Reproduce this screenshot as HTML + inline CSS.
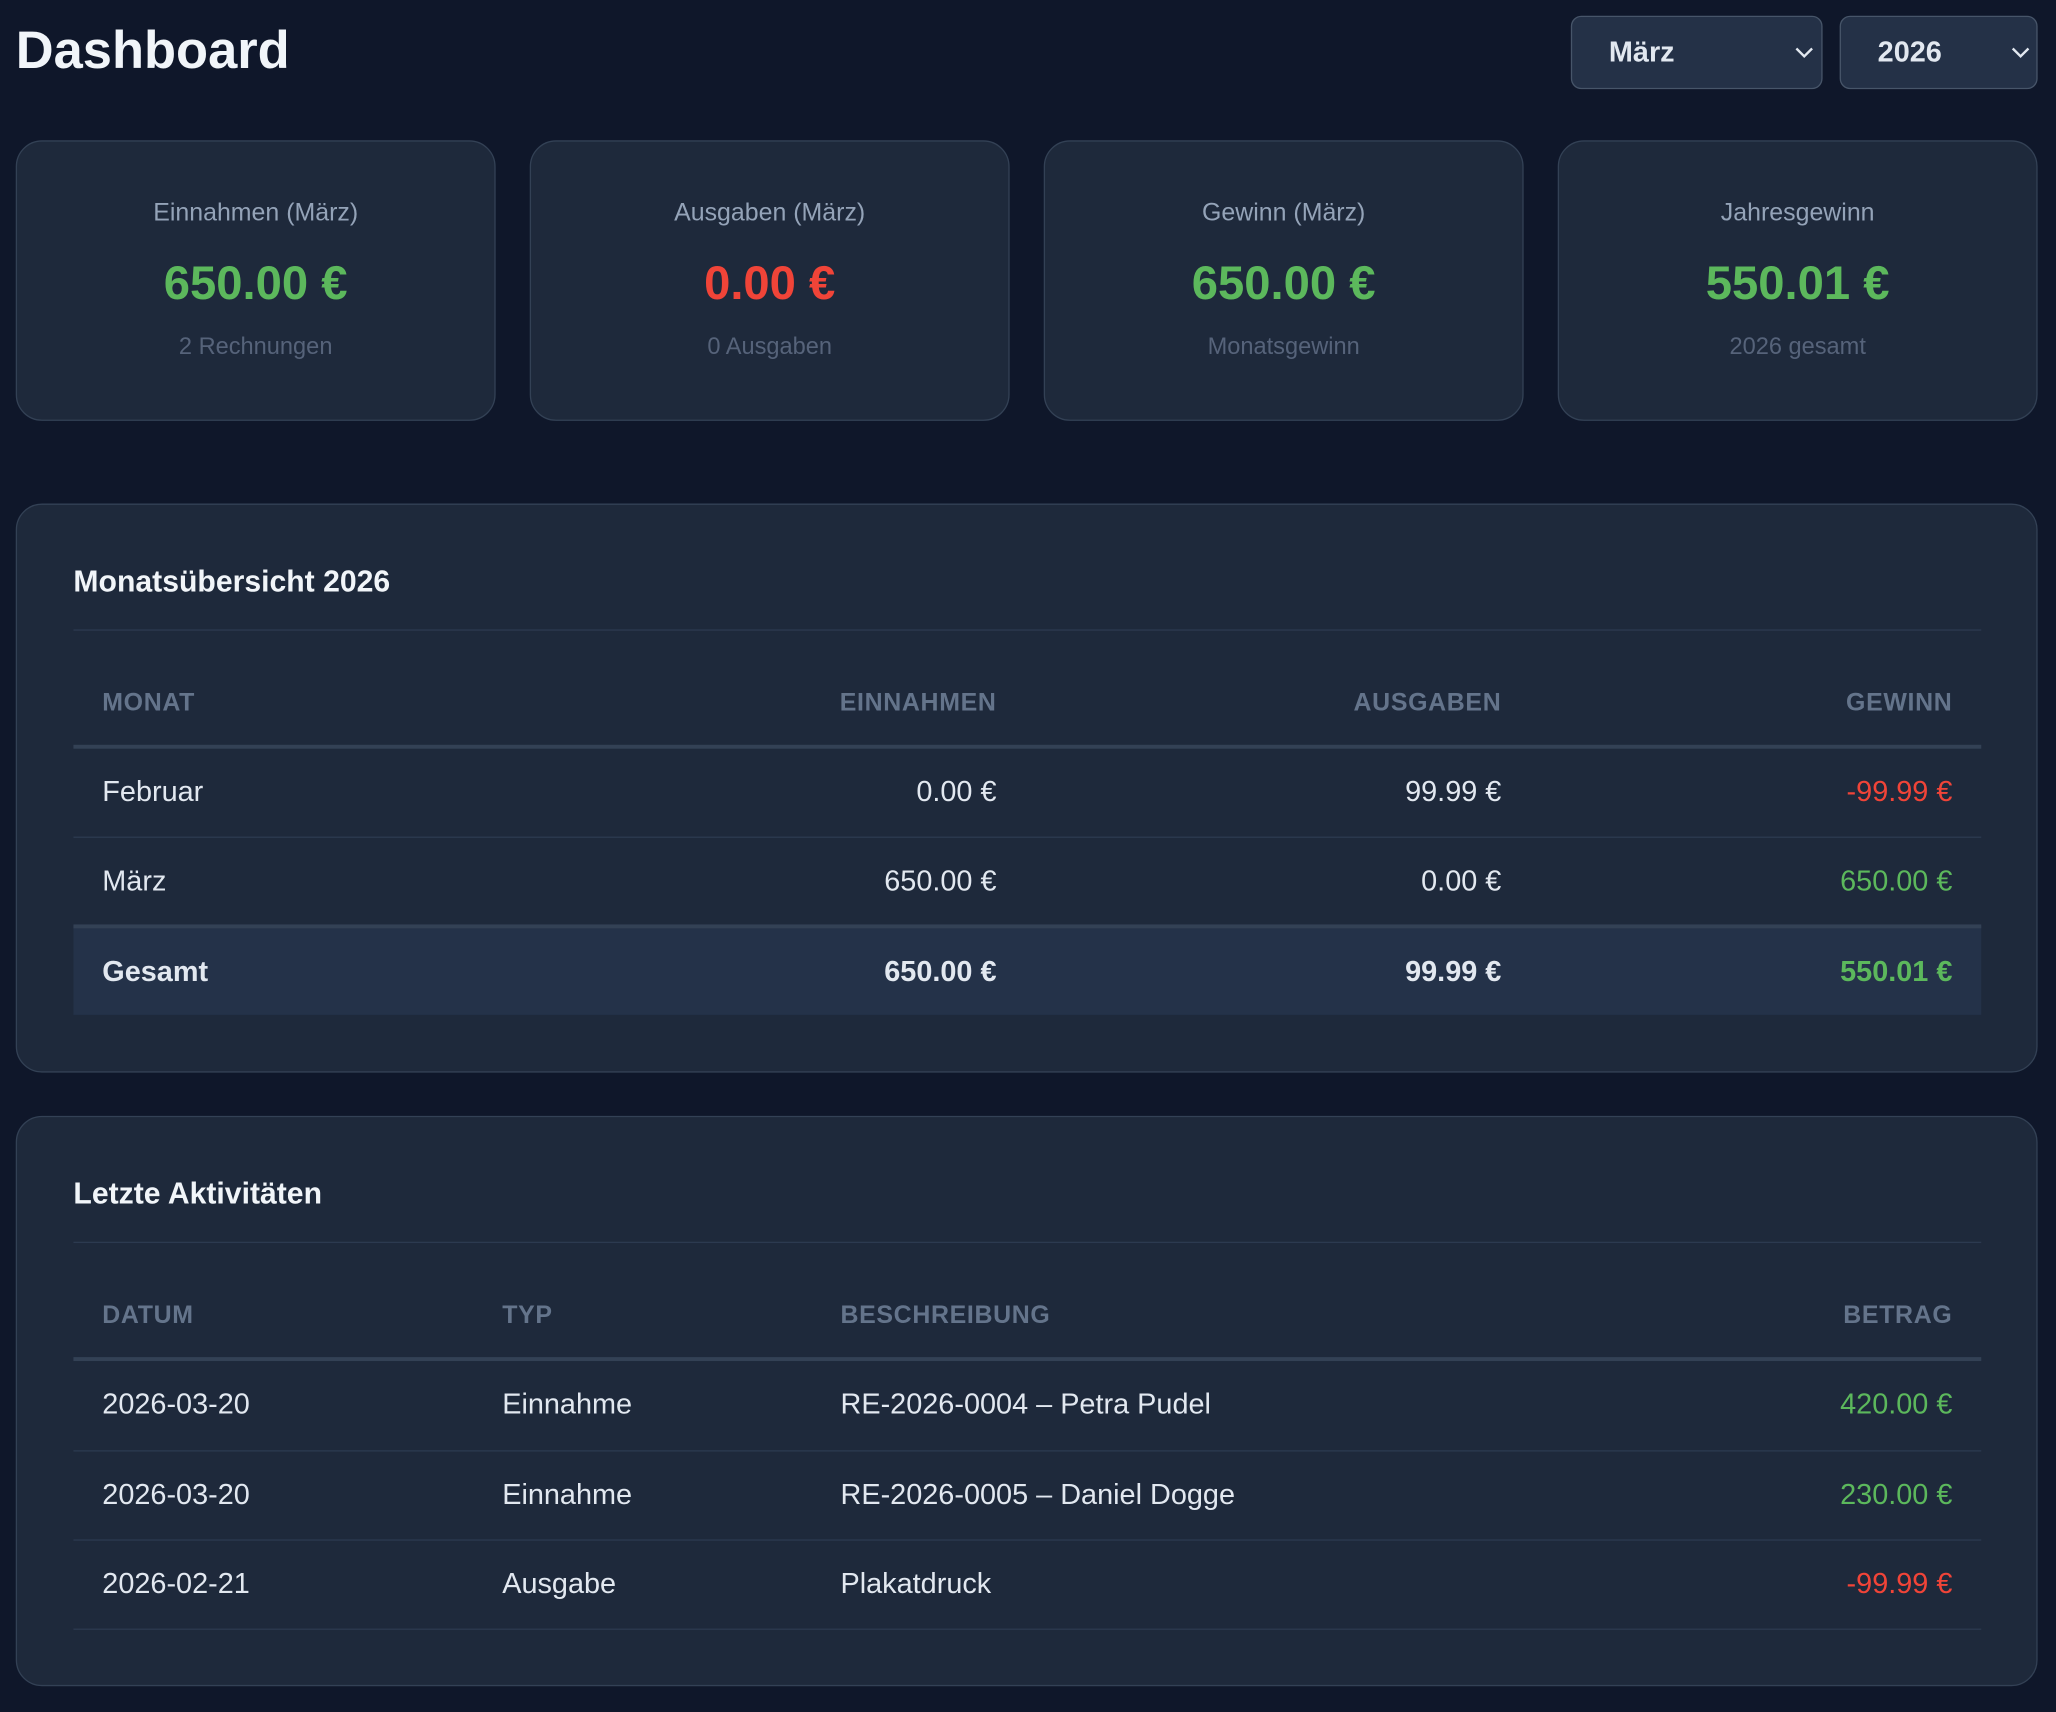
<!DOCTYPE html>
<html><head><meta charset="utf-8"><style>
html,body{margin:0;padding:0;background:#0f172a;width:2056px;height:1712px;overflow:hidden}
#w{position:absolute;left:0;top:0;width:1568px;height:1306px;transform:scale(1.31122);transform-origin:0 0;font-family:"Liberation Sans",sans-serif;color:#e2e8f0}
.a{position:absolute;white-space:nowrap}
.box{position:absolute;background:#1e293b;border:1px solid #334155;box-sizing:border-box}
.sel{background:#243147;border:1px solid #475569;border-radius:8px}
.card{border-radius:20px}
.lab{font-size:19px;color:#94a3b8;width:366px;text-align:center}
.val{font-size:36px;font-weight:bold;width:366px;text-align:center}
.sub{font-size:18px;color:#56637a;width:366px;text-align:center}
.ttl{font-size:23px;font-weight:bold;color:#f1f5f9}
.hd{font-size:19px;font-weight:bold;color:#64748b;letter-spacing:.5px}
.c{font-size:22px;color:#e2e8f0}
.b{font-weight:bold}
.g{color:#5cb85c}.r{color:#f04438}
.line{position:absolute;left:56px;width:1455px;background:#2c3a50}
.ra{text-align:right}
</style></head><body><div id="w">
<div class="a" style="left:12px;top:14px;font-size:40px;font-weight:bold;color:#f1f5f9;line-height:50px">Dashboard</div>
<div class="box sel" style="left:1198px;top:12px;width:192px;height:56px"></div>
<div class="a" style="left:1227px;top:26px;font-size:22px;font-weight:bold;line-height:28px;color:#e2e8f0">März</div>
<svg class="a" style="left:1369px;top:35px" width="14" height="10"><path d="M1 2 L7 8 L13 2" stroke="#e2e8f0" stroke-width="1.8" fill="none"/></svg>
<div class="box sel" style="left:1403px;top:12px;width:151px;height:56px"></div>
<div class="a" style="left:1432px;top:26px;font-size:22px;font-weight:bold;line-height:28px;color:#e2e8f0">2026</div>
<svg class="a" style="left:1534px;top:35px" width="14" height="10"><path d="M1 2 L7 8 L13 2" stroke="#e2e8f0" stroke-width="1.8" fill="none"/></svg>

<div class="box card" style="left:12px;top:107px;width:366px;height:214px"></div>
<div class="box card" style="left:404px;top:107px;width:366px;height:214px"></div>
<div class="box card" style="left:796px;top:107px;width:366px;height:214px"></div>
<div class="box card" style="left:1188px;top:107px;width:366px;height:214px"></div>

<div class="a lab" style="left:12px;top:151px;line-height:24px">Einnahmen (März)</div>
<div class="a val g" style="left:12px;top:194px;line-height:44px">650.00 €</div>
<div class="a sub" style="left:12px;top:252px;line-height:24px">2 Rechnungen</div>
<div class="a lab" style="left:404px;top:151px;line-height:24px">Ausgaben (März)</div>
<div class="a val r" style="left:404px;top:194px;line-height:44px">0.00 €</div>
<div class="a sub" style="left:404px;top:252px;line-height:24px">0 Ausgaben</div>
<div class="a lab" style="left:796px;top:151px;line-height:24px">Gewinn (März)</div>
<div class="a val g" style="left:796px;top:194px;line-height:44px">650.00 €</div>
<div class="a sub" style="left:796px;top:252px;line-height:24px">Monatsgewinn</div>
<div class="a lab" style="left:1188px;top:151px;line-height:24px">Jahresgewinn</div>
<div class="a val g" style="left:1188px;top:194px;line-height:44px">550.01 €</div>
<div class="a sub" style="left:1188px;top:252px;line-height:24px">2026 gesamt</div>

<div class="box card" style="left:12px;top:384px;width:1542px;height:434px;border-radius:20px"></div>
<div class="a ttl" style="left:56px;top:429px;line-height:28px">Monatsübersicht 2026</div>
<div class="line" style="top:480px;height:1px"></div>
<div class="a hd" style="left:78px;top:525px;line-height:24px">MONAT</div>
<div class="a hd ra" style="right:808px;top:525px;line-height:24px">EINNAHMEN</div>
<div class="a hd ra" style="right:423px;top:525px;line-height:24px">AUSGABEN</div>
<div class="a hd ra" style="right:79px;top:525px;line-height:24px">GEWINN</div>
<div class="line" style="top:568px;height:3px;background:#334155"></div>
<div class="a c" style="left:78px;top:590px;line-height:28px">Februar</div>
<div class="a c ra" style="right:808px;top:590px;line-height:28px">0.00 €</div>
<div class="a c ra" style="right:423px;top:590px;line-height:28px">99.99 €</div>
<div class="a c ra r" style="right:79px;top:590px;line-height:28px">-99.99 €</div>
<div class="line" style="top:638px;height:1px"></div>
<div class="a c" style="left:78px;top:658px;line-height:28px">März</div>
<div class="a c ra" style="right:808px;top:658px;line-height:28px">650.00 €</div>
<div class="a c ra" style="right:423px;top:658px;line-height:28px">0.00 €</div>
<div class="a c ra g" style="right:79px;top:658px;line-height:28px">650.00 €</div>
<div class="line" style="top:706px;height:68px;background:#243249"></div>
<div class="line" style="top:705px;height:3px;background:#334155"></div>
<div class="a c b" style="left:78px;top:727px;line-height:28px">Gesamt</div>
<div class="a c b ra" style="right:808px;top:727px;line-height:28px">650.00 €</div>
<div class="a c b ra" style="right:423px;top:727px;line-height:28px">99.99 €</div>
<div class="a c b ra g" style="right:79px;top:727px;line-height:28px">550.01 €</div>

<div class="box card" style="left:12px;top:851px;width:1542px;height:435px;border-radius:20px"></div>
<div class="a ttl" style="left:56px;top:896px;line-height:28px">Letzte Aktivitäten</div>
<div class="line" style="top:947px;height:1px"></div>
<div class="a hd" style="left:78px;top:992px;line-height:24px">DATUM</div>
<div class="a hd" style="left:383px;top:992px;line-height:24px">TYP</div>
<div class="a hd" style="left:641px;top:992px;line-height:24px">BESCHREIBUNG</div>
<div class="a hd ra" style="right:79px;top:992px;line-height:24px">BETRAG</div>
<div class="line" style="top:1035px;height:3px;background:#334155"></div>
<div class="a c" style="left:78px;top:1057px;line-height:28px">2026-03-20</div>
<div class="a c" style="left:383px;top:1057px;line-height:28px">Einnahme</div>
<div class="a c" style="left:641px;top:1057px;line-height:28px">RE-2026-0004 – Petra Pudel</div>
<div class="a c ra g" style="right:79px;top:1057px;line-height:28px">420.00 €</div>
<div class="line" style="top:1106px;height:1px"></div>
<div class="a c" style="left:78px;top:1126px;line-height:28px">2026-03-20</div>
<div class="a c" style="left:383px;top:1126px;line-height:28px">Einnahme</div>
<div class="a c" style="left:641px;top:1126px;line-height:28px">RE-2026-0005 – Daniel Dogge</div>
<div class="a c ra g" style="right:79px;top:1126px;line-height:28px">230.00 €</div>
<div class="line" style="top:1174px;height:1px"></div>
<div class="a c" style="left:78px;top:1194px;line-height:28px">2026-02-21</div>
<div class="a c" style="left:383px;top:1194px;line-height:28px">Ausgabe</div>
<div class="a c" style="left:641px;top:1194px;line-height:28px">Plakatdruck</div>
<div class="a c ra r" style="right:79px;top:1194px;line-height:28px">-99.99 €</div>
<div class="line" style="top:1242px;height:1px"></div>
</div></body></html>
